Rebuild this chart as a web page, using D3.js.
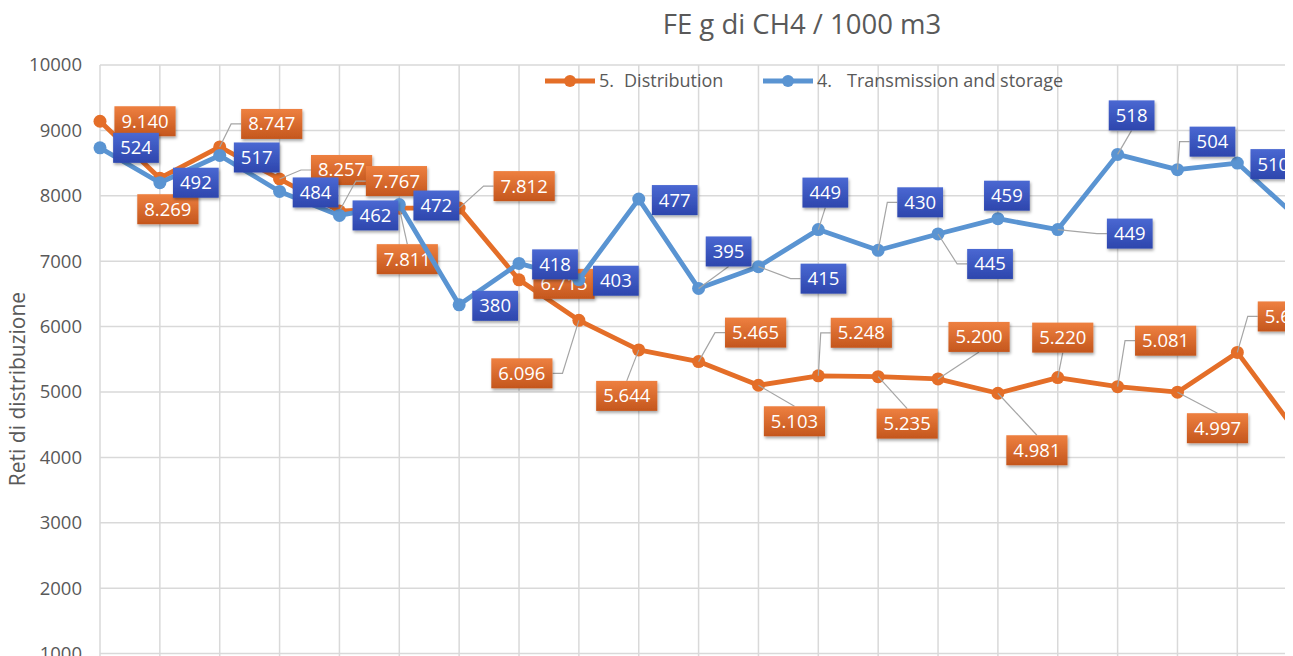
<!DOCTYPE html>
<html>
<head>
<meta charset="utf-8">
<script src="https://cdn.jsdelivr.net/npm/d3@7"></script>
<style>
  html, body { margin: 0; padding: 0; background: #fff; }
  svg { display: block; font-family: "Open Sans", "Noto Sans", sans-serif; }
</style>
</head>
<body>
<svg id="chart" width="1293" height="656"></svg>
<script>
// Years of the inventory series
const categories = ["1990","1991","1992","1993","1994","1995","1996","1997","1998","1999","2000",
                    "2001","2002","2003","2004","2005","2006","2007","2008","2009","2010"];

// 5. Distribution (primary axis)
const distribution = [9140, 8269, 8747, 8257, 7767, 7811, 7812, 6715, 6096, 5644, 5465,
                      5103, 5248, 5235, 5200, 4981, 5220, 5081, 4997, 5605, 4375];

// 4. Transmission and storage (secondary axis)
const transmission = [524, 492, 517, 484, 462, 472, 380, 418, 403, 477, 395,
                      415, 449, 430, 445, 459, 449, 518, 504, 510, 460];

const yTicks = [1000, 2000, 3000, 4000, 5000, 6000, 7000, 8000, 9000, 10000];

const seriesNames = ["5.  Distribution", "4.  Transmission and storage"];

// Data-label placement: [dx, dy, leader anchor] relative to each point
const distLabelLayout = [[45,0,""],[8,31,""],[52,-23,"l"],[62,-9,"l"],[57,-30,"l"],[8,51,"t"],[65,-22,"l"],
  [45,4,""],[-57,53,"r"],[-12,46,"t"],[57,-29,"l"],[36,36,"t"],[43,-43,"l"],[29,47,"t"],[41,-42,"b"],
  [39,57,"t"],[5,-40,"b"],[48,-46,"l"],[40,36,"t"],[51,-36,"l"],[40,0,""]];
const transLabelLayout = [[36,0,""],[36,0,""],[37,2,""],[36,1,""],[36,0,""],[37,1,""],[36,1,""],
  [36,1,""],[37,1,""],[36,1,""],[30,-37,"b"],[65,12,"l"],[7,-37,"b"],[42,-48,"l"],[52,30,"l"],
  [9,-23,""],[72,4,"l"],[14,-39,"b"],[35,-28,"l"],[36,1,""],[36,0,""]];

const W = 1293, H = 656;
const plot = { left: 100, right: 1285, top: 65 };
const colors = { dist: "#E46E28", trans: "#5A94D2", grid: "#D9D9D9", text: "#595959" };

const svg = d3.select("#chart");
const defs = svg.append("defs");

defs.append("clipPath").attr("id", "plotClip")
  .append("rect").attr("x", 0).attr("y", 0).attr("width", plot.right).attr("height", H);

const gOrange = defs.append("linearGradient").attr("id", "gradOrange").attr("x1", 0).attr("y1", 0).attr("x2", 0).attr("y2", 1);
gOrange.append("stop").attr("offset", "0%").attr("stop-color", "#EE8040");
gOrange.append("stop").attr("offset", "100%").attr("stop-color", "#C4561D");
const gBlue = defs.append("linearGradient").attr("id", "gradBlue").attr("x1", 0).attr("y1", 0).attr("x2", 0).attr("y2", 1);
gBlue.append("stop").attr("offset", "0%").attr("stop-color", "#4A68D2");
gBlue.append("stop").attr("offset", "100%").attr("stop-color", "#2D46AD");

const shadow = defs.append("filter").attr("id", "shadow").attr("x", "-20%").attr("y", "-20%").attr("width", "150%").attr("height", "160%");
shadow.append("feDropShadow").attr("dx", 1).attr("dy", 2).attr("stdDeviation", 1.5)
  .attr("flood-color", "#000").attr("flood-opacity", 0.35);

// Scales: categories sit on the vertical gridlines
const x = d3.scalePoint().domain(categories).range([100, 100 + 20 * 59.86]);
const y = d3.scaleLinear().domain([0, 10000]).range([719, 65]);
const y2 = d3.scaleLinear().domain([0, 600]).range([719, 65]);

const itFmt = d3.formatLocale({ decimal: ",", thousands: ".", grouping: [3], currency: ["€", ""] });
const fmtDist = itFmt.format(",d");
const fmtTrans = d3.format("d");

// Title
svg.append("text").attr("x", 802).attr("y", 34).attr("text-anchor", "middle")
  .attr("font-size", 27.5).attr("fill", colors.text).text("FE g di CH4 / 1000 m3");

// Y axis title
svg.append("text").attr("transform", "translate(25,389) rotate(-90)").attr("text-anchor", "middle")
  .attr("font-size", 21).attr("fill", colors.text).text("Reti di distribuzione");

const chart = svg.append("g").attr("clip-path", "url(#plotClip)");

// Gridlines
chart.append("g").selectAll("line.h").data(yTicks).join("line")
  .attr("x1", plot.left).attr("x2", plot.right)
  .attr("y1", d => y(d)).attr("y2", d => y(d))
  .attr("stroke", colors.grid).attr("stroke-width", 1.5);
chart.append("g").selectAll("line.v").data(categories).join("line")
  .attr("x1", d => x(d)).attr("x2", d => x(d))
  .attr("y1", y(10000)).attr("y2", H)
  .attr("stroke", colors.grid).attr("stroke-width", 1.5);

// Left axis labels
const yAxis = d3.axisLeft(y).tickValues(yTicks).tickSize(0).tickPadding(0).tickFormat(d3.format("d"));
const axisG = svg.append("g").attr("transform", "translate(82,0)").call(yAxis);
axisG.select(".domain").remove();
axisG.selectAll("text").attr("font-size", 18.5).attr("fill", colors.text)
  .attr("font-family", "'Open Sans', sans-serif");

function drawSeries(values, yScale, color) {
  const pts = values.map((v, i) => [x(categories[i]), yScale(v)]);
  chart.append("path").datum(pts)
    .attr("d", d3.line())
    .attr("fill", "none").attr("stroke", color).attr("stroke-width", 4.8)
    .attr("stroke-linejoin", "round").attr("stroke-linecap", "round");
  chart.append("g").selectAll("circle").data(pts).join("circle")
    .attr("cx", d => d[0]).attr("cy", d => d[1]).attr("r", 6.5).attr("fill", color);
  return pts;
}

function drawLabels(values, pts, layout, fmt, fill) {
  const g = chart.append("g");
  values.forEach((v, i) => {
    const [px, py] = pts[i];
    const [dx, dy, anchor] = layout[i];
    const cx = px + dx, cy = py + dy;
    const lg = g.append("g");
    const leader = lg.append("path").attr("fill", "none").attr("stroke", "#A5A5A5").attr("stroke-width", 1.2);
    const box = lg.append("rect").attr("fill", fill).attr("filter", "url(#shadow)");
    const t = lg.append("text").attr("x", cx).attr("y", cy).attr("dy", "0.35em")
      .attr("text-anchor", "middle").attr("font-size", 18.5).attr("fill", "#fff").text(fmt(v));
    const tw = t.node().getComputedTextLength();
    const bw = tw + 14, bh = 30;
    const L = cx - bw / 2, R = cx + bw / 2, T = cy - bh / 2, B = cy + bh / 2;
    box.attr("x", L).attr("y", T).attr("width", bw).attr("height", bh);
    let d = null;
    if (anchor === "l") d = `M${px},${py}L${L - 10},${cy}L${L},${cy}`;
    else if (anchor === "r") d = `M${px},${py}L${R + 10},${cy}L${R},${cy}`;
    else if (anchor === "t") d = `M${px},${py}L${cx},${T}`;
    else if (anchor === "b") d = `M${px},${py}L${cx},${B}`;
    if (d) leader.attr("d", d); else leader.remove();
  });
}

// Primary group first, then secondary group on top
const distPts = drawSeries(distribution, y, colors.dist);
drawLabels(distribution, distPts, distLabelLayout, fmtDist, "url(#gradOrange)");
const transPts = drawSeries(transmission, y2, colors.trans);
drawLabels(transmission, transPts, transLabelLayout, fmtTrans, "url(#gradBlue)");

// Legend
const legend = svg.append("g");
const legendItems = [
  { name: seriesNames[0], color: colors.dist, x0: 545, gap: 10 },
  { name: seriesNames[1], color: colors.trans, x0: 763, gap: 15 }
];
legendItems.forEach(it => {
  const g = legend.append("g").attr("transform", `translate(${it.x0},81)`);
  g.append("line").attr("x1", 0).attr("x2", 50).attr("stroke", it.color).attr("stroke-width", 4.8);
  g.append("circle").attr("cx", 25).attr("r", 6).attr("fill", it.color);
  const parts = it.name.split(/\s{2,}/);
  const t = g.append("text").attr("x", 54).attr("dy", "0.35em").attr("font-size", 18).attr("fill", colors.text);
  t.append("tspan").text(parts[0]);
  t.append("tspan").attr("dx", it.gap).text(parts[1]);
});
</script>
</body>
</html>
